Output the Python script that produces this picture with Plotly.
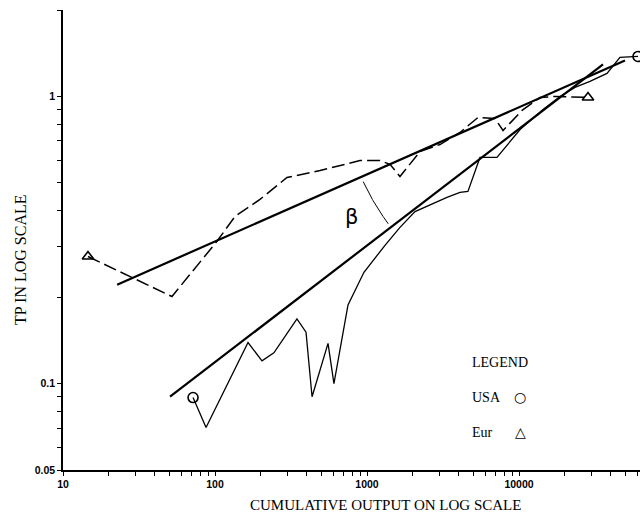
import numpy as np
import plotly.graph_objects as go

# ---- data ----
usa_x = [71.7, 87.3, 164.9, 203.8, 244, 346, 397, 435, 554, 606, 750, 955, 1313, 1648,
         2070, 2596, 3357, 4090, 4613, 5534, 7160, 10160, 14390, 18620, 23360, 29290,
         37920, 46150, 60650]
usa_y = [0.0894, 0.0703, 0.139, 0.120, 0.128, 0.168, 0.151, 0.090, 0.138, 0.100, 0.188,
         0.244, 0.303, 0.350, 0.397, 0.420, 0.445, 0.463, 0.467, 0.613, 0.613, 0.767,
         0.901, 1.0, 1.075, 1.128, 1.203, 1.367, 1.378]

eur_x = [14.6, 52.1, 103, 135.5, 197.7, 297.6, 491, 899, 1218, 1417, 1648, 2233, 3021,
         4090, 5373, 6950, 7850, 10470, 13740, 17260, 28440]
eur_y = [0.277, 0.201, 0.313, 0.382, 0.438, 0.522, 0.552, 0.598, 0.598, 0.580, 0.526,
         0.643, 0.680, 0.749, 0.845, 0.838, 0.761, 0.894, 0.992, 1.0, 0.992]

usa_fit_x = [50.6, 35700]
usa_fit_y = [0.090, 1.293]
eur_fit_x = [22.7, 49800]
eur_fit_y = [0.221, 1.334]

x_major = [10, 100, 1000, 10000]
x_major_labels = ["10", "100", "1000", "10000"]
y_major = [0.05, 0.1, 1]
y_major_labels = ["0.05", "0.1", "1"]

# ---- layout geometry ----
W, H = 640, 516
ML, MR, MT, MB = 63, 0, 10, 46
xr = [1, 4.796]
yr = [np.log10(0.05), np.log10(2)]
pw, ph = W - ML - MR, H - MT - MB
ppd_x = pw / (xr[1] - xr[0])
ppd_y = ph / (yr[1] - yr[0])


def px(xpix):
    return (xpix - ML) / pw


def py(ypix):
    return (H - MB - ypix) / ph


# tick values
x_ticks, x_text = [], []
for d in [10, 100, 1000, 10000]:
    for m in range(1, 10):
        v = d * m
        if np.log10(v) <= xr[1] + 1e-9:
            x_ticks.append(v)
            x_text.append(x_major_labels[x_major.index(v)] if v in x_major else "")
y_ticks, y_text = [], []
for v in [0.05, 0.06, 0.07, 0.08, 0.09, 0.1, 0.2, 0.3, 0.4, 0.5, 0.6, 0.7, 0.8, 0.9, 1, 2]:
    y_ticks.append(v)
    y_text.append(y_major_labels[y_major.index(v)] if v in y_major else "")

fig = go.Figure()

# fitted lines
fig.add_trace(go.Scatter(x=usa_fit_x, y=usa_fit_y, mode="lines",
                         line=dict(color="black", width=2.2), showlegend=False))
fig.add_trace(go.Scatter(x=eur_fit_x, y=eur_fit_y, mode="lines",
                         line=dict(color="black", width=2.2), showlegend=False))

# data series
fig.add_trace(go.Scatter(x=usa_x, y=usa_y, mode="lines",
                         line=dict(color="black", width=1.3), showlegend=False))
fig.add_trace(go.Scatter(x=eur_x, y=eur_y, mode="lines",
                         line=dict(color="black", width=1.5, dash="13px,5px"),
                         showlegend=False))

# end markers
fig.add_trace(go.Scatter(x=[usa_x[0], usa_x[-1]], y=[usa_y[0], usa_y[-1]], mode="markers",
                         marker=dict(symbol="circle-open", size=10, color="black",
                                     line=dict(width=1.6)),
                         cliponaxis=False, showlegend=False))
fig.add_trace(go.Scatter(x=[eur_x[0], eur_x[-1]], y=[eur_y[0], eur_y[-1]], mode="markers",
                         marker=dict(symbol="triangle-up-open", size=10, color="black",
                                     line=dict(width=1.6)),
                         cliponaxis=False, showlegend=False))

# beta arc around the intersection of the two fitted lines
lu = np.log10(usa_fit_x); lvu = np.log10(usa_fit_y)
le = np.log10(eur_fit_x); lve = np.log10(eur_fit_y)
su = (lvu[1] - lvu[0]) / (lu[1] - lu[0])
se = (lve[1] - lve[0]) / (le[1] - le[0])
cx = (lve[0] - se * le[0] - lvu[0] + su * lu[0]) / (su - se)
cy = lvu[0] + su * (cx - lu[0])
r = 245
t = np.radians(np.linspace(205, 216.5, 40))
arc_x = 10 ** (cx + r * np.cos(t) / ppd_x)
arc_y = 10 ** (cy + r * np.sin(t) / ppd_y)
fig.add_trace(go.Scatter(x=arc_x, y=arc_y, mode="lines",
                         line=dict(color="black", width=1), showlegend=False))

serif = "Liberation Serif"


def ann(x, y, text, size, family=serif, xanchor="center", **kw):
    return dict(x=x, y=y, xref="paper", yref="paper", text=text, showarrow=False,
                xanchor=xanchor, yanchor="middle",
                font=dict(family=family, size=size, color="black"), **kw)


annos = [
    dict(x=np.log10(796), y=np.log10(0.379), xref="x", yref="y", text="β",
         showarrow=False, xanchor="center", yanchor="middle",
         font=dict(family="DejaVu Sans", size=21, color="black")),
    ann(px(470), py(362), "LEGEND", 14, xanchor="left"),
    ann(px(470), py(397), "USA", 14, xanchor="left"),
    ann(px(520), py(397), "○", 14, family="DejaVu Sans"),
    ann(px(470), py(432), "Eur", 14, xanchor="left"),
    ann(px(520), py(432), "△", 14, family="DejaVu Sans"),
    ann(px(385), py(505), "CUMULATIVE OUTPUT ON LOG SCALE", 15),
    ann(px(20), py(260), "TP IN LOG SCALE", 16, textangle=-90),
]

tickfont = dict(family="Liberation Sans", size=10.5, color="black", weight="bold")

fig.update_layout(
    width=W, height=H,
    margin=dict(l=ML, r=MR, t=MT, b=MB),
    paper_bgcolor="white", plot_bgcolor="white",
    showlegend=False,
    annotations=annos,
    xaxis=dict(type="log", range=xr, tickmode="array", tickvals=x_ticks, ticktext=x_text,
               ticks="outside", ticklen=4, tickwidth=1.2, tickcolor="black",
               showline=True, linecolor="black", linewidth=1.6, showgrid=False,
               zeroline=False, tickfont=tickfont),
    yaxis=dict(type="log", range=yr, tickmode="array", tickvals=y_ticks, ticktext=y_text,
               ticks="outside", ticklen=4, tickwidth=1.2, tickcolor="black",
               showline=True, linecolor="black", linewidth=1.6, showgrid=False,
               zeroline=False, tickfont=tickfont),
)

fig.write_html("out.html",
               config={"displayModeBar": False},
               post_script="document.body.style.margin='0px';"
                           "document.body.style.padding='0px';")
